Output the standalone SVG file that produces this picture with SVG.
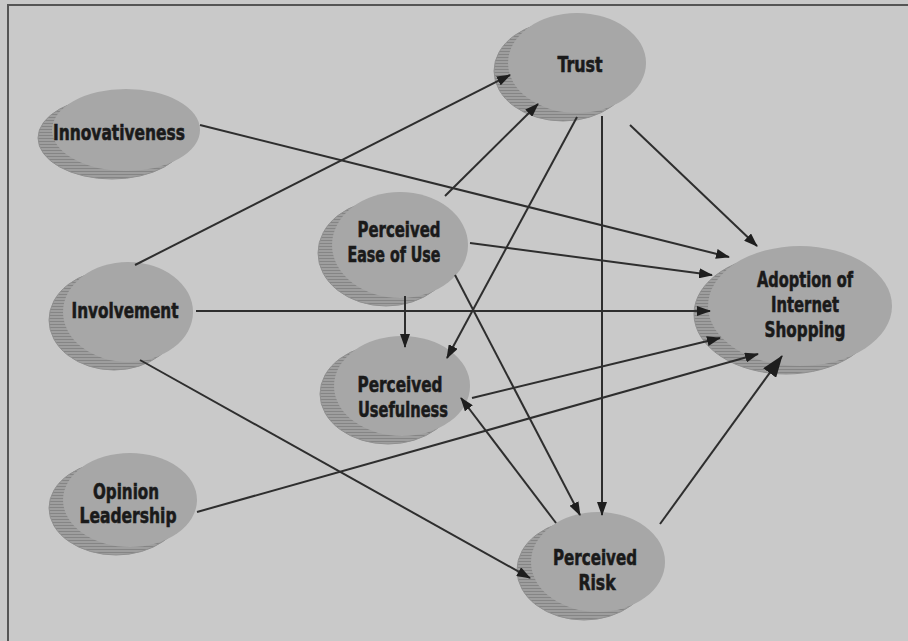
<svg xmlns="http://www.w3.org/2000/svg" width="908" height="641" viewBox="0 0 908 641">
  <style>
    .front { fill: #a7a7a7; }
    .shadow { fill: url(#hatch); stroke: #909090; stroke-width: 1; }
    .lbl { font-family: "DejaVu Sans Condensed", "Liberation Sans", sans-serif; font-weight: bold; font-size: 22px; fill: #1a1a1a; stroke: #1a1a1a; stroke-width: 0.6; text-anchor: middle; }
    .edge { stroke: #2e2e2e; stroke-width: 2; fill: none; marker-end: url(#arrow); }
    .edge-big { stroke: #2e2e2e; stroke-width: 2; fill: none; marker-end: url(#arrowBig); }
  </style>
  <defs>
    <pattern id="hatch" width="6" height="3" patternUnits="userSpaceOnUse">
      <rect width="6" height="3" fill="#9e9e9e"/>
      <rect width="6" height="1" fill="#858585"/>
    </pattern>
    <marker id="arrow" viewBox="0 0 14 10" refX="13" refY="5" markerWidth="14" markerHeight="10" markerUnits="userSpaceOnUse" orient="auto">
      <path d="M0,0 L14,5 L0,10 Z" fill="#1e1e1e"/>
    </marker>
    <marker id="arrowBig" viewBox="0 0 22 16" refX="21" refY="8" markerWidth="22" markerHeight="16" markerUnits="userSpaceOnUse" orient="auto">
      <path d="M0,0 L22,8 L0,16 Z" fill="#1e1e1e"/>
    </marker>
  </defs>

  <!-- page background and frame -->
  <rect width="908" height="641" fill="#c9c9c9"/>
  <line x1="7" y1="5" x2="908" y2="5" stroke="#555" stroke-width="2"/>
  <line x1="8" y1="5" x2="8" y2="641" stroke="#555" stroke-width="2"/>

  <!-- nodes -->
  <g id="trust">
    <ellipse class="shadow" cx="563" cy="71" rx="69" ry="50"/>
    <ellipse class="front" cx="577" cy="63" rx="69" ry="50"/>
    <text class="lbl" x="580" y="72" textLength="45" lengthAdjust="spacingAndGlyphs">Trust</text>
  </g>
  <g id="innovativeness">
    <ellipse class="shadow" cx="112" cy="138" rx="74" ry="41"/>
    <ellipse class="front" cx="126" cy="130" rx="74" ry="41"/>
    <text class="lbl" x="119" y="140" textLength="132" lengthAdjust="spacingAndGlyphs">Innovativeness</text>
  </g>
  <g id="involvement">
    <ellipse class="shadow" cx="114" cy="320" rx="65" ry="50"/>
    <ellipse class="front" cx="128" cy="312" rx="65" ry="50"/>
    <text class="lbl" x="125" y="318" textLength="107" lengthAdjust="spacingAndGlyphs">Involvement</text>
  </g>
  <g id="opinion-leadership">
    <ellipse class="shadow" cx="116" cy="508" rx="67" ry="47"/>
    <ellipse class="front" cx="130" cy="500" rx="67" ry="47"/>
    <text class="lbl" x="126" y="499" textLength="66" lengthAdjust="spacingAndGlyphs">Opinion</text>
    <text class="lbl" x="128" y="523" textLength="97" lengthAdjust="spacingAndGlyphs">Leadership</text>
  </g>
  <g id="perceived-ease-of-use">
    <ellipse class="shadow" cx="386" cy="253" rx="68" ry="53"/>
    <ellipse class="front" cx="400" cy="245" rx="68" ry="53"/>
    <text class="lbl" x="399" y="237" textLength="83" lengthAdjust="spacingAndGlyphs">Perceived</text>
    <text class="lbl" x="394" y="262" textLength="93" lengthAdjust="spacingAndGlyphs">Ease of Use</text>
  </g>
  <g id="perceived-usefulness">
    <ellipse class="shadow" cx="388" cy="394" rx="68" ry="50"/>
    <ellipse class="front" cx="402" cy="386" rx="68" ry="50"/>
    <text class="lbl" x="400" y="392" textLength="85" lengthAdjust="spacingAndGlyphs">Perceived</text>
    <text class="lbl" x="403" y="417" textLength="90" lengthAdjust="spacingAndGlyphs">Usefulness</text>
  </g>
  <g id="perceived-risk">
    <ellipse class="shadow" cx="584" cy="570" rx="67" ry="50"/>
    <ellipse class="front" cx="598" cy="562" rx="67" ry="50"/>
    <text class="lbl" x="595" y="565" textLength="84" lengthAdjust="spacingAndGlyphs">Perceived</text>
    <text class="lbl" x="597" y="590" textLength="37" lengthAdjust="spacingAndGlyphs">Risk</text>
  </g>
  <g id="adoption">
    <ellipse class="shadow" cx="786" cy="314" rx="92" ry="60"/>
    <ellipse class="front" cx="800" cy="306" rx="92" ry="60"/>
    <text class="lbl" x="805" y="287" textLength="96" lengthAdjust="spacingAndGlyphs">Adoption of</text>
    <text class="lbl" x="805" y="312" textLength="68" lengthAdjust="spacingAndGlyphs">Internet</text>
    <text class="lbl" x="805" y="337" textLength="81" lengthAdjust="spacingAndGlyphs">Shopping</text>
  </g>

  <!-- connectors -->
  <g id="connectors">
    <line class="edge" x1="200" y1="125" x2="729" y2="257"/>
    <line class="edge" x1="630" y1="125" x2="757" y2="246"/>
    <line class="edge" x1="470" y1="243" x2="712" y2="275"/>
    <line class="edge" x1="196" y1="311" x2="710" y2="311"/>
    <line class="edge" x1="472" y1="398" x2="720" y2="338"/>
    <line class="edge" x1="197" y1="512" x2="758" y2="354"/>
    <line class="edge-big" x1="660" y1="524" x2="782" y2="356"/>
    <line class="edge" x1="135" y1="265" x2="510" y2="75"/>
    <line class="edge" x1="445" y1="196" x2="538" y2="104"/>
    <line class="edge" x1="577" y1="117" x2="447" y2="358"/>
    <line class="edge" x1="602" y1="116" x2="602" y2="515"/>
    <line class="edge" x1="405" y1="296" x2="405" y2="347"/>
    <line class="edge" x1="455" y1="275" x2="580" y2="515"/>
    <line class="edge" x1="556" y1="523" x2="461" y2="398"/>
    <line class="edge" x1="140" y1="360" x2="530" y2="578"/>
  </g>
</svg>
